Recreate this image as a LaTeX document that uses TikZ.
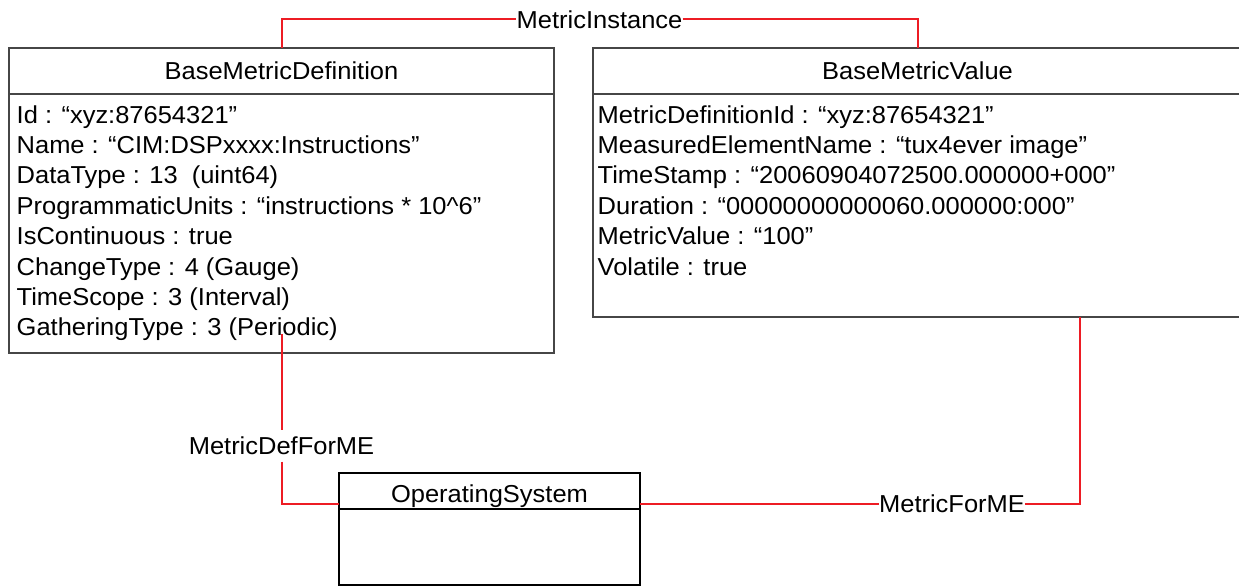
\documentclass[tikz,border=0pt]{standalone}
\usepackage{fontspec}
\setmainfont[FakeStretch=1.04]{Liberation Sans}
\usetikzlibrary{calc}
\definecolor{boxgray}{RGB}{70,70,70}
\definecolor{conred}{RGB}{237,28,36}
\begin{document}
\begin{tikzpicture}[x=1pt,y=-1pt,
  umlbox/.style={draw=boxgray, line width=1.2pt, inner sep=0pt, outer sep=0pt, anchor=north west},
  divline/.style={draw=boxgray, line width=1.2pt},
  conn/.style={draw=conred, line width=2pt},
  txt/.style={font=\fontsize{24.5}{30.4}\selectfont},
  lbl/.style={txt, inner sep=0pt},
  attr/.style={txt, inner sep=0pt, anchor=base west},
  ttl/.style={txt, inner sep=0pt, anchor=base},
]
\useasboundingbox (0,0) rectangle (1239,586);
\coordinate (mdfstart) at (281.5,334);
\node[lbl] (mi) at (599.5,19.5) {MetricInstance};
\node[lbl, inner ysep=6.5pt] (mdf) at (281.5,446) {MetricDefForME};
\node[lbl] (mfm) at (952,503.5) {MetricForME};

% boxes
\node[umlbox, minimum width=545pt, minimum height=305pt] (bmd) at (9,48) {};
\draw[divline] ($(bmd.north west)+(0,46)$) -- ($(bmd.north east)+(0,46)$);
\node[ttl] (bmdt) at ($(bmd.north)+(0,31)$) {BaseMetricDefinition};
\foreach \t [count=\i] in {{Id : “xyz:87654321”},
  {Name : “CIM:DSPxxxx:Instructions”},
  {DataType : 13~ (uint64)},
  {ProgrammaticUnits : “instructions * 10\textasciicircum6”},
  {IsContinuous : true},
  {ChangeType : 4 (Gauge)},
  {TimeScope : 3 (Interval)},
  {GatheringType : 3 (Periodic)}}
  \node[attr] (bmda\i) at (16.5,{123+30.4*(\i-1)}) {\t};

\node[umlbox, minimum width=649pt, minimum height=269pt] (bmv) at (593,48) {};
\draw[divline] ($(bmv.north west)+(0,46)$) -- ($(bmv.north east)+(0,46)$);
\node[ttl] (bmvt) at ($(bmv.north)+(0,31)$) {BaseMetricValue};
\foreach \t [count=\i] in {{MetricDefinitionId : “xyz:87654321”},
  {MeasuredElementName : “tux4ever image”},
  {TimeStamp : “20060904072500.000000+000”},
  {Duration : “00000000000060.000000:000”},
  {MetricValue : “100”},
  {Volatile : true}}
  \node[attr] (bmva\i) at (597.5,{123+30.4*(\i-1)}) {\t};

\node[umlbox, draw=black, minimum width=301pt, minimum height=112pt] (os) at (339,473) {};
\draw[divline, draw=black] ($(os.north west)+(0,36)$) -- ($(os.north east)+(0,36)$);
\node[ttl] (ost) at ($(os.north)+(0,29)$) {OperatingSystem};

% connectors
\draw[conn] (bmd.north) |- (mi.west);
\draw[conn] (mi.east) -| (bmv.north);
\draw[conn] (mdfstart) -- (mdf.north);
\draw[conn] (mdf.south) |- ($(os.north west)+(0,30.5)$);
\draw[conn] ($(os.north east)+(0,30.5)$) -- (mfm.west);
\draw[conn] (mfm.east) -| ($(bmv.south west)+(486.5,0)$);
\end{tikzpicture}
\end{document}
